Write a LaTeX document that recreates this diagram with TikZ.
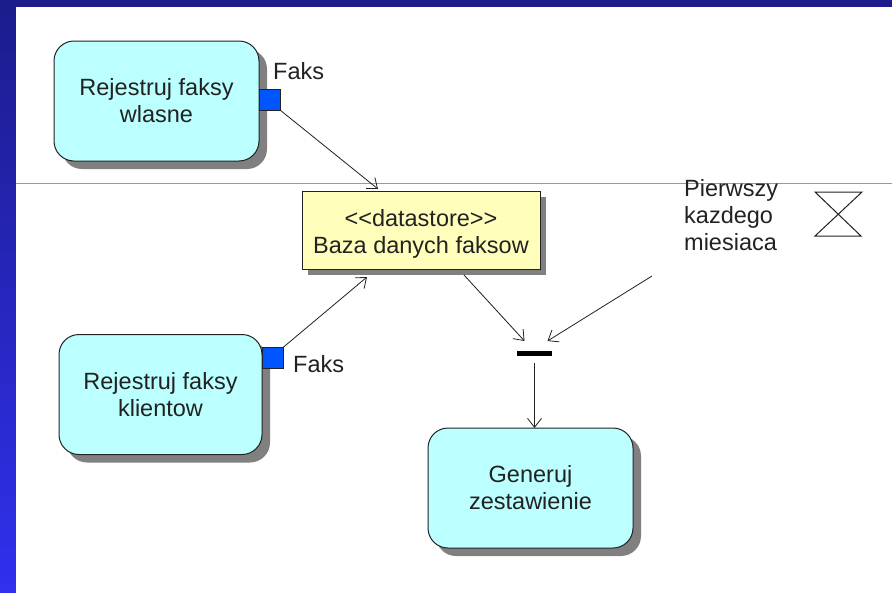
\documentclass[tikz,border=0pt]{standalone}
\usepackage{fontspec}
\setmainfont{Liberation Sans}
\usetikzlibrary{arrows.meta}
\usetikzlibrary{shadows}
\tikzset{>={Straight Barb[width=14pt,length=9pt]}}
\definecolor{slidetop}{HTML}{1C1C8C}
\definecolor{slidebottom}{HTML}{3030EE}
\definecolor{rule}{HTML}{9090E0}
\definecolor{activity}{HTML}{BBFFFF}
\definecolor{store}{HTML}{FFFFBB}
\definecolor{port}{HTML}{0055FF}
\definecolor{ink}{HTML}{222222}
\tikzset{
  label/.style={font=\fontsize{23.5}{27}\selectfont, text=ink, align=left, inner sep=0pt},
  activitybox/.style={draw=ink, line width=1pt, fill=activity, rounded corners=20pt,
    minimum width=205pt, minimum height=120pt, inner sep=0pt, outer sep=0pt,
    font=\fontsize{23.5}{27}\selectfont, text=ink, align=center,
    drop shadow={shadow xshift=8pt, shadow yshift=-8pt, fill=gray, opacity=1}},
  storebox/.style={draw=ink, line width=1pt, fill=store,
    minimum width=238pt, minimum height=78pt, inner sep=0pt, outer sep=0pt,
    font=\fontsize{23.5}{27}\selectfont, text=ink, align=center,
    drop shadow={shadow xshift=6pt, shadow yshift=-6pt, fill=gray, opacity=1}},
  portbox/.style={draw=ink, line width=1pt, fill=port, minimum size=21pt,
    inner sep=0pt, outer sep=0pt},
  flow/.style={->, draw=ink, line width=0.8pt},
}
\begin{document}
\begin{tikzpicture}[x=1pt,y=-1pt]

  \useasboundingbox (0,0) rectangle (892,592);
  \shade[top color=slidetop, bottom color=slidebottom] (0,0) rectangle (892,592);
  \fill[white] (16,7) rectangle (894,595);
  \draw[rule, line width=1pt] (16,183) -- (892,183);

  \node[activitybox] (own) at (156.5,101) {Rejestruj faksy\\wlasne};
  \node[activitybox, minimum width=203pt] (client) at (160.5,394.5) {Rejestruj faksy\\klientow};
  \node[activitybox] (report) at (530.5,488) {Generuj\\zestawienie};
  \node[storebox] (base) at (421,230) {\rule{0pt}{25pt}<{}<datastore>{}>\\Baza danych faksow};

  \node[portbox] (ownport) at (269.5,99.5) {};
  \node[portbox] (clientport) at (272.5,358) {};
  \node[label, anchor=west] (ownfax) at (273,71) {Faks};
  \node[label, anchor=west] (clientfax) at (293,364) {Faks};

  \node[fill=black, minimum width=35pt, minimum height=5pt, inner sep=0pt, outer sep=0pt]
  (sync) at (534.5,353.5) {};

  \node[label, anchor=north west] (when) at (684,179) {Pierwszy\\kazdego\\miesiaca};
  \coordinate (timer) at (652,276);

  \draw[flow] (ownport.south east) -- ([shift={(76,-2)}]base.north west); %% own -> base
  \draw[flow] (clientport.north east) -- ([shift={(65,8)}]base.south west); %% client -> base
  \draw[flow] ([shift={(162,6)}]base.south west) -- ([shift={(-10,-10)}]sync.north); %% base -> sync
  \draw[flow] (timer) -- ([shift={(13,-10)}]sync.north); %% timer -> sync
  \draw[flow] ([yshift=-7pt]sync.south) -- (sync.south |- report.north); %% sync -> report

  \draw[ink, line width=1pt] (815,192) -- (862,192) -- (815,236) -- (861,236) -- cycle;

\end{tikzpicture}
\end{document}
